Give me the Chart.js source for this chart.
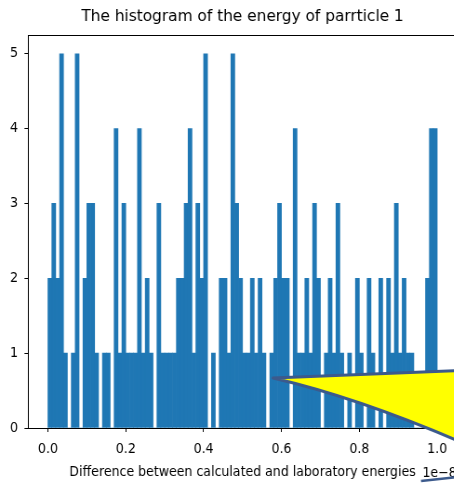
<!DOCTYPE html>
<html>
<head>
<meta charset="utf-8">
<script src="https://cdn.jsdelivr.net/npm/chart.js@4"></script>
<style>
    html, body { margin: 0; padding: 0; background: #fff; overflow: hidden; }
    #wrap { width: 454px; height: 485px; overflow: hidden; }
    /* a figura original esta um pouco espremida na horizontal */
    #graficoHist { transform: scaleX(0.93); transform-origin: 0 0; }
</style>
</head>
<body>
<div id="wrap"><canvas id="graficoHist" width="495" height="485"></canvas></div>
<script>
const titulo = 'The histogram of the energy of parrticle 1';
const rotuloX = 'Difference between calculated and laboratory energies';
const textoOffset = '1e\u22128';

// 100 bins de 0 a 1 (em unidades de 1e-8)
const binInicio = 0;
const binLargura = 0.01;
const contagens = [
    2, 3, 2, 5, 1, 0, 1, 5, 0, 2,
    3, 3, 1, 0, 1, 1, 0, 4, 1, 3,
    1, 1, 1, 4, 1, 2, 1, 0, 3, 1,
    1, 1, 1, 2, 2, 3, 4, 1, 3, 2,
    5, 0, 1, 0, 2, 2, 1, 5, 3, 2,
    1, 1, 2, 1, 2, 1, 0, 1, 2, 3,
    2, 2, 0, 4, 1, 1, 2, 1, 3, 2,
    0, 1, 2, 1, 3, 1, 0, 1, 0, 2,
    1, 0, 2, 1, 0, 2, 0, 2, 1, 3,
    1, 2, 1, 1, 0, 0, 0, 2, 4, 4
];
const ticksX = [0, 0.2, 0.4, 0.6, 0.8, 1.0];
const rotulosX = ['0.0', '0.2', '0.4', '0.6', '0.8', '1.0'];
const ticksY = [0, 1, 2, 3, 4, 5];
const rotulosY = ['0', '1', '2', '3', '4', '5'];

const centros = contagens.map((_, i) => binInicio + binLargura * (i + 0.5));

const escalaX = 0.93; // mesmo valor do scaleX do css
const fonte = (size) => ({ family: 'DejaVu Sans', size: size, weight: 'normal' });

// moldura de cima, texto do offset e a seta amarela por cima do grafico
const extrasPlugin = {
    id: 'extras',
    afterDraw(chart) {
        const { ctx, chartArea } = chart;
        const px = (x) => x / escalaX; // coordenada da tela -> canvas
        ctx.save();
        ctx.strokeStyle = '#000';
        ctx.lineWidth = 1;
        ctx.beginPath();
        ctx.moveTo(chartArea.left, chartArea.top + 0.5);
        ctx.lineTo(chartArea.right, chartArea.top + 0.5);
        ctx.stroke();

        ctx.fillStyle = '#000';
        ctx.font = '13.5px "DejaVu Sans"';
        ctx.textAlign = 'right';
        ctx.textBaseline = 'middle';
        ctx.fillText(textoOffset, chartArea.right, 473);

        // seta de anotacao
        ctx.fillStyle = '#ffff00';
        ctx.strokeStyle = '#3c5a8c';
        ctx.lineWidth = 3;
        ctx.lineJoin = 'round';
        ctx.beginPath();
        ctx.moveTo(px(273), 378);
        ctx.lineTo(px(470), 370);
        ctx.lineTo(px(470), 446);
        ctx.quadraticCurveTo(px(360), 398, px(273), 378);
        ctx.closePath();
        ctx.fill();
        ctx.stroke();

        ctx.lineWidth = 2.5;
        ctx.beginPath();
        ctx.moveTo(px(421), 481);
        ctx.lineTo(px(458), 477);
        ctx.stroke();
        ctx.restore();
    }
};

const ctx = document.getElementById('graficoHist').getContext('2d');

new Chart(ctx, {
    type: 'bar',
    data: {
        datasets: [{
            data: contagens.map((c, i) => ({ x: centros[i], y: c })),
            backgroundColor: '#1f77b4',
            borderWidth: 0,
            barPercentage: 1,
            categoryPercentage: 1
        }]
    },
    options: {
        responsive: false,
        animation: false,
        layout: { padding: { left: 0, right: 4, top: 0, bottom: 0 } },
        plugins: {
            legend: { display: false },
            tooltip: { enabled: false },
            title: {
                display: true,
                text: titulo,
                fullSize: false,
                color: '#000',
                font: fonte(16.5),
                padding: { top: 6.5, bottom: 8.7 }
            }
        },
        scales: {
            x: {
                type: 'linear',
                min: -0.05,
                max: 1.05,
                offset: false,
                afterBuildTicks: (ax) => { ax.ticks = ticksX.map(v => ({ value: v })); },
                afterFit: (ax) => { ax.height = 57; },
                ticks: {
                    callback: (v, i) => rotulosX[i],
                    color: '#000',
                    font: fonte(13.5),
                    padding: 9,
                    maxRotation: 0,
                    autoSkip: false
                },
                grid: { drawOnChartArea: false, drawTicks: true, tickLength: 4, color: '#000', offset: false },
                border: { display: true, color: '#000' },
                title: {
                    display: true,
                    text: rotuloX,
                    color: '#000',
                    font: fonte(13.5),
                    padding: { top: 0, bottom: 4 }
                }
            },
            y: {
                min: 0,
                max: 5.25,
                afterBuildTicks: (ax) => { ax.ticks = ticksY.map(v => ({ value: v })); },
                afterFit: (ax) => { ax.width = 30.6; },
                ticks: {
                    callback: (v, i) => rotulosY[i],
                    color: '#000',
                    font: fonte(13.5),
                    padding: 7
                },
                grid: { drawOnChartArea: false, drawTicks: true, tickLength: 4.3, color: '#000' },
                border: { display: true, color: '#000' }
            }
        }
    },
    plugins: [extrasPlugin]
});
</script>
</body>
</html>
